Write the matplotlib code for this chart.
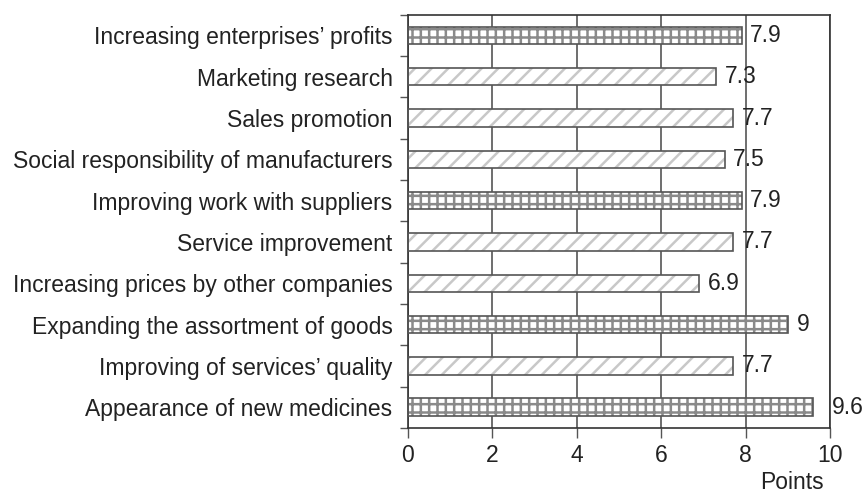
import matplotlib
matplotlib.use("Agg")
import matplotlib.pyplot as plt
import numpy as np

plt.rcParams['font.family'] = ['Liberation Sans', 'DejaVu Sans']
plt.rcParams['hatch.linewidth'] = 1.8

# --- data ---
categories = [
    "Increasing enterprises\u2019 profits",
    "Marketing research",
    "Sales promotion",
    "Social responsibility of manufacturers",
    "Improving work with suppliers",
    "Service improvement",
    "Increasing prices by other companies",
    "Expanding the assortment of goods",
    "Improving of services\u2019 quality",
    "Appearance of new medicines",
]
values = [7.9, 7.3, 7.7, 7.5, 7.9, 7.7, 6.9, 9.0, 7.7, 9.6]
value_labels = ["7.9", "7.3", "7.7", "7.5", "7.9", "7.7", "6.9", "9", "7.7", "9.6"]
dotted = [True, False, False, False, True, False, False, True, False, True]

FS = 16.5

fig = plt.figure(figsize=(8.64, 4.94), dpi=100)
ax = fig.add_axes([0.472, 0.134, 0.489, 0.836])

y = np.arange(len(categories))[::-1]
bar_h = 0.42

for yi, v, d in zip(y, values, dotted):
    if d:
        ax.barh(yi, v, height=bar_h, color='white', hatch='++', edgecolor='#8a8a8a',
                linewidth=0, zorder=2)
    else:
        ax.barh(yi, v, height=bar_h, color='white', hatch='//', edgecolor='#c8c8c8',
                linewidth=0, zorder=2)
    ax.barh(yi, v, height=bar_h, fill=False, edgecolor='#555555', linewidth=1.2, zorder=3)

# value labels; ones that would hit the right frame go just outside it
for yi, v, lab in zip(y, values, value_labels):
    xt = v + 0.2
    if xt > 9.6:
        xt = 10.04
    ax.text(xt, yi, lab, va='center', ha='left', fontsize=FS, color='#222222',
            clip_on=False)

ax.set_xlim(0, 10)
ax.set_ylim(-0.5, len(categories) - 0.5)
ax.set_xticks([0, 2, 4, 6, 8, 10])
ax.set_yticks(y)
ax.set_yticklabels(categories, fontsize=FS, color='#222222')
ax.set_yticks(np.arange(len(categories) + 1) - 0.5, minor=True)
ax.tick_params(axis='y', which='major', length=0, pad=11)
ax.tick_params(axis='y', which='minor', length=6, width=1, color='#555555')
ax.tick_params(axis='x', which='major', length=7, width=1, color='#555555',
               labelsize=FS, labelcolor='#222222', pad=5)

ax.grid(axis='x', color='#555555', linewidth=1.2, zorder=0)
ax.set_axisbelow(True)
for s in ['left', 'bottom', 'right', 'top']:
    ax.spines[s].set_color('#333333')
    ax.spines[s].set_linewidth(1.2)

ax.text(0.91, -0.105, "Points", transform=ax.transAxes, ha='center', va='top',
        fontsize=FS, color='#222222')

fig.savefig("out.png", dpi=100)
